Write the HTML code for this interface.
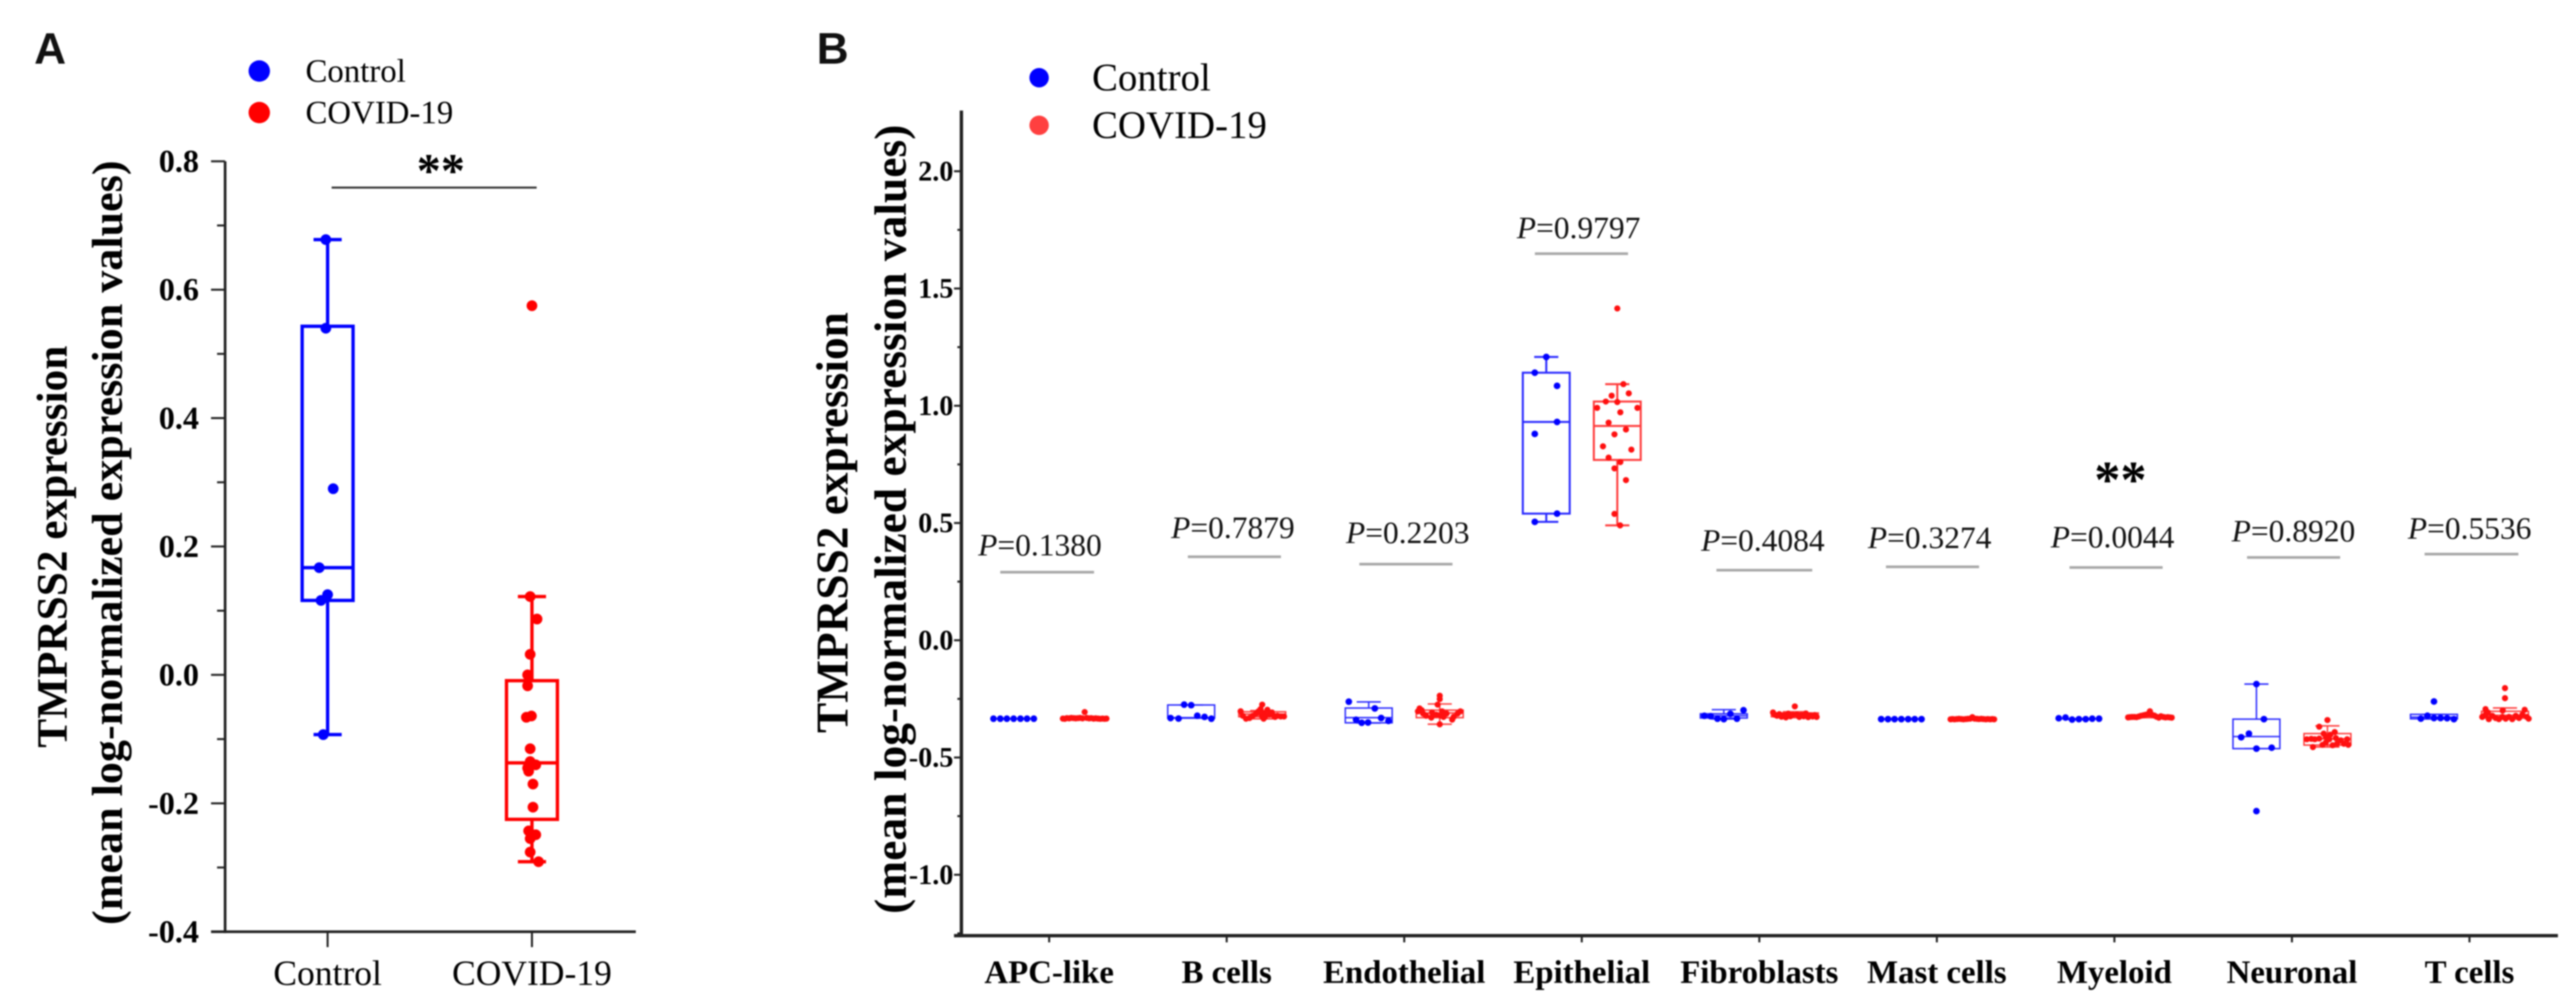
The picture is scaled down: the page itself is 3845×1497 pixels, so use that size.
<!DOCTYPE html>
<html lang="en">
<head>
<meta charset="utf-8">
<title>TMPRSS2 expression boxplots</title>
<style>
html,body{margin:0;padding:0;background:#fff;width:3845px;height:1497px;overflow:hidden}
svg{display:block;filter:blur(1.1px)}
text{font-family:"Liberation Serif","Times New Roman",serif;fill:#000}
.panel{font-family:"Liberation Sans",Arial,sans-serif;font-weight:700;font-size:66px;fill:#111}
.bold{font-weight:700}
.p{font-size:47px;fill:#111}
.p tspan{font-style:italic}
</style>
</head>
<body>
<svg id="figure" xmlns="http://www.w3.org/2000/svg" width="3845" height="1497" viewBox="0 0 3845 1497">
  <text class="panel" x="51" y="95">A</text>
  <text class="panel" x="1219" y="95">B</text>

  <g>
    <circle cx="387" cy="106" r="16" fill="#0000ff"/>
    <text x="456" y="122" font-size="49">Control</text>
    <circle cx="387" cy="168" r="16" fill="#ff0000"/>
    <text x="456" y="184" font-size="49">COVID-19</text>
  </g>
  <text class="bold" transform="translate(99.5,816) rotate(-90)" text-anchor="middle" font-size="65" textLength="600" lengthAdjust="spacingAndGlyphs">TMPRSS2 expression</text>
  <text class="bold" transform="translate(182,810) rotate(-90)" text-anchor="middle" font-size="65" textLength="1141" lengthAdjust="spacingAndGlyphs">(mean log-normalized expression values)</text>
  <line x1="495" y1="280" x2="801" y2="280" stroke="#333" stroke-width="3"/>
  <text class="bold" x="658" y="279" text-anchor="middle" font-size="72">**</text>
  <g id="panelA"></g>

  <g>
    <circle cx="1551" cy="116" r="14.5" fill="#0000ff"/>
    <text x="1630" y="135" font-size="58">Control</text>
    <circle cx="1551" cy="187" r="14.5" fill="#ff4040"/>
    <text x="1630" y="206" font-size="58">COVID-19</text>
  </g>
  <text class="bold" transform="translate(1265,780) rotate(-90)" text-anchor="middle" font-size="68" textLength="628" lengthAdjust="spacingAndGlyphs">TMPRSS2 expression</text>
  <text class="bold" transform="translate(1352,775) rotate(-90)" text-anchor="middle" font-size="68" textLength="1178" lengthAdjust="spacingAndGlyphs">(mean log-normalized expression values)</text>
  <g id="panelB"></g>

  <g stroke="#a8a8a8" stroke-width="4">
    <line x1="1493" y1="854" x2="1633" y2="854"/>
    <line x1="1773" y1="831" x2="1912" y2="831"/>
    <line x1="2029" y1="842" x2="2168" y2="842"/>
    <line x1="2291" y1="378.6" x2="2430" y2="378.6"/>
    <line x1="2562" y1="851" x2="2705" y2="851"/>
    <line x1="2815" y1="846" x2="2954" y2="846"/>
    <line x1="3089" y1="847" x2="3228" y2="847"/>
    <line x1="3354" y1="832" x2="3493" y2="832"/>
    <line x1="3619" y1="827" x2="3759" y2="827"/>
  </g>
  <g>
    <text class="p" x="1460" y="829"><tspan>P</tspan>=0.1380</text>
    <text class="p" x="1748" y="803"><tspan>P</tspan>=0.7879</text>
    <text class="p" x="2009" y="810.6"><tspan>P</tspan>=0.2203</text>
    <text class="p" x="2264" y="355.6"><tspan>P</tspan>=0.9797</text>
    <text class="p" x="2539" y="822"><tspan>P</tspan>=0.4084</text>
    <text class="p" x="2788" y="818"><tspan>P</tspan>=0.3274</text>
    <text class="p" x="3061" y="817"><tspan>P</tspan>=0.0044</text>
    <text class="p" x="3331" y="808"><tspan>P</tspan>=0.8920</text>
    <text class="p" x="3594" y="804"><tspan>P</tspan>=0.5536</text>
  </g>
  <text class="bold" x="3165" y="742" text-anchor="middle" font-size="78">**</text>
</svg>

<script>
/* ---------- Panel A data ---------- */
const panelATickValues = [0.8, 0.6, 0.4, 0.2, 0.0, -0.2, -0.4];
const panelATickLabels = ['0.8', '0.6', '0.4', '0.2', '0.0', '-0.2', '-0.4'];
const panelAMinorTickValues = [0.7, 0.5, 0.3, 0.1, -0.1, -0.3];
const panelACategories = ['Control', 'COVID-19'];
const panelAQ1 = [0.116, -0.225];
const panelAMedian = [0.167, -0.137];
const panelAQ3 = [0.543, -0.009];
const panelAWhiskerLow = [-0.093, -0.291];
const panelAWhiskerHigh = [0.678, 0.122];
const panelAControlValues = [0.678, 0.540, 0.290, 0.167, 0.125, 0.116, -0.093];
const panelAControlJitter = [-0.07, -0.07, 0.22, -0.33, 0, -0.26, -0.17];
const panelACovidValues = [0.575, 0.122, 0.087, 0.032, 0.000, -0.017, -0.066, -0.064, -0.115, -0.135, -0.140, -0.145, -0.150, -0.170, -0.206, -0.243, -0.249, -0.255, -0.276, -0.291];
const panelACovidJitter = [0, -0.07, 0.20, -0.07, -0.17, -0.17, -0.22, -0.02, -0.07, -0.07, 0.15, -0.17, -0.13, 0.04, 0.04, -0.13, 0.15, -0.07, -0.07, 0.26];

/* ---------- Panel B data ---------- */
const panelBTickValues = [2.0, 1.5, 1.0, 0.5, 0.0, -0.5, -1.0];
const panelBTickLabels = ['2.0', '1.5', '1.0', '0.5', '0.0', '-0.5', '-1.0'];
const panelBMinorTickValues = [1.75, 1.25, 0.75, 0.25, -0.25, -0.75, -1.25];
const panelBCategories = ['APC-like', 'B cells', 'Endothelial', 'Epithelial', 'Fibroblasts', 'Mast cells', 'Myeloid', 'Neuronal', 'T cells'];

const controlQ1 = [-0.3345, -0.332, -0.352, 0.540, -0.3316, -0.336, -0.3345, -0.4621, -0.335];
const controlMedian = [-0.3345, -0.330, -0.330, 0.931, -0.322, -0.336, -0.3345, -0.4106, -0.328];
const controlQ3 = [-0.3345, -0.276, -0.289, 1.141, -0.3136, -0.336, -0.3345, -0.3364, -0.316];
const controlWhiskerLow = [-0.3345, -0.332, -0.353, 0.505, -0.336, -0.336, -0.338, -0.4621, -0.336];
const controlWhiskerHigh = [-0.3345, -0.276, -0.263, 1.208, -0.296, -0.336, -0.3345, -0.1868, -0.316];

const covidQ1 = [-0.334, -0.326, -0.330, 0.769, -0.326, -0.336, -0.329, -0.447, -0.332];
const covidMedian = [-0.333, -0.315, -0.310, 0.914, -0.320, -0.336, -0.327, -0.420, -0.320];
const covidQ3 = [-0.332, -0.305, -0.298, 1.018, -0.310, -0.336, -0.322, -0.398, -0.303];
const covidWhiskerLow = [-0.335, -0.335, -0.358, 0.490, -0.330, -0.336, -0.330, -0.455, -0.336];
const covidWhiskerHigh = [-0.332, -0.300, -0.2717, 1.092, -0.305, -0.336, -0.320, -0.365, -0.2887];

const evenJitter7 = [-0.86, -0.57, -0.29, 0, 0.29, 0.57, 0.86];
const evenJitter21 = [-0.93, -0.85, -0.76, -0.66, -0.57, -0.47, -0.38, -0.28, -0.19, -0.09, 0, 0.09, 0.19, 0.28, 0.38, 0.47, 0.57, 0.66, 0.76, 0.85, 0.93];

const apcControlValues = [-0.3345, -0.3345, -0.3345, -0.3345, -0.3345, -0.3345, -0.3345];
const apcCovidValues = [-0.334, -0.335, -0.332, -0.333, -0.331, -0.332, -0.333, -0.332, -0.331, -0.333, -0.306, -0.331, -0.333, -0.332, -0.334, -0.333, -0.334, -0.335, -0.334, -0.335, -0.334];

const bCellsControlValues = [-0.2745, -0.277, -0.3317, -0.334, -0.322, -0.327, -0.3345];
const bCellsControlJitter = [-0.30, 0, -0.88, -0.54, 0.26, 0.57, 0.86];
const bCellsCovidValues = [-0.303, -0.322, -0.3345, -0.3316, -0.322, -0.3126, -0.303, -0.2745, -0.2935, -0.2964, -0.3126, -0.3221, -0.3345, -0.3173, -0.3078, -0.3221, -0.3221, -0.325, -0.325, -0.3269, -0.3269];
const bCellsCovidJitter = [-0.92, -0.83, -0.69, -0.54, -0.40, -0.26, -0.16, 0, -0.07, 0.22, 0.08, -0.02, 0.06, 0.31, 0.41, 0.50, 0.65, 0.79, 0.93, 0.55, 0.12];

const endothelialControlValues = [-0.262, -0.339, -0.3517, -0.3507, -0.2907, -0.3316, -0.344];
const endothelialControlJitter = [-0.85, -0.54, -0.30, -0.03, 0.26, 0.53, 0.84];
const endothelialCovidValues = [-0.2364, -0.2507, -0.2745, -0.2907, -0.3031, -0.3031, -0.3126, -0.3383, -0.3583, -0.3126, -0.3221, -0.3079, -0.3297, -0.3174, -0.3031, -0.3221, -0.3126, -0.3269, -0.2983, -0.3269, -0.3174];
const endothelialCovidJitter = [0, 0, -0.09, -0.86, -0.93, 0.88, 0.76, 0.53, 0, -0.71, -0.58, -0.33, -0.36, -0.15, 0.10, 0.04, 0.29, 0.59, -0.77, 0.16, -0.27];

const epithelialControlValues = [1.208, 1.141, 1.085, 0.931, 0.880, 0.540, 0.505];
const epithelialControlJitter = [0, -0.49, 0.46, 0.46, -0.49, 0.46, -0.49];
const epithelialCovidValues = [1.415, 1.092, 1.053, 1.043, 1.018, 1.016, 0.991, 0.991, 0.972, 0.928, 0.899, 0.878, 0.827, 0.813, 0.779, 0.760, 0.733, 0.683, 0.539, 0.490];
const epithelialCovidJitter = [0, 0.26, 0.49, -0.24, -0.49, 0, -0.86, 0.86, 0.13, -0.37, 0.37, -0.12, -0.61, 0.60, -0.37, 0.13, -0.12, 0.37, -0.12, 0.12];

const fibroblastsControlValues = [-0.3221, -0.324, -0.3345, -0.3364, -0.3136, -0.3345, -0.2983];
const fibroblastsControlJitter = [-0.83, -0.56, -0.27, 0, 0.28, 0.56, 0.84];
const fibroblastsCovidValues = [-0.308, -0.318, -0.322, -0.315, -0.326, -0.320, -0.329, -0.313, -0.324, -0.318, -0.282, -0.316, -0.327, -0.319, -0.324, -0.312, -0.328, -0.320, -0.325, -0.319, -0.327];

const mastControlValues = [-0.3364, -0.3364, -0.3364, -0.3364, -0.3364, -0.3364, -0.3364];
const mastCovidValues = [-0.337, -0.336, -0.337, -0.336, -0.335, -0.336, -0.337, -0.336, -0.335, -0.334, -0.328, -0.334, -0.335, -0.336, -0.335, -0.336, -0.337, -0.336, -0.337, -0.336, -0.337];

const myeloidControlValues = [-0.3326, -0.3297, -0.3383, -0.3364, -0.3364, -0.3345, -0.3345];
const myeloidCovidValues = [-0.329, -0.328, -0.327, -0.327, -0.328, -0.325, -0.322, -0.320, -0.318, -0.315, -0.303, -0.318, -0.321, -0.326, -0.330, -0.324, -0.327, -0.329, -0.328, -0.329, -0.330];

const neuronalControlValues = [-0.1868, -0.3364, -0.3983, -0.4135, -0.4621, -0.4583, -0.7287];
const neuronalControlJitter = [0, 0.32, -0.32, -0.65, 0, 0.65, 0];
const neuronalCovidValues = [-0.3402, -0.3687, -0.4554, -0.4221, -0.3916, -0.3983, -0.4221, -0.4192, -0.4125, -0.4459, -0.4221, -0.4478, -0.4411, -0.4268, -0.4221, -0.4459, -0.4411, -0.4364, -0.4173, -0.4202, -0.403];
const neuronalCovidJitter = [0, -0.35, -0.62, -0.88, 0.31, -0.16, -0.54, -0.35, -0.07, -0.21, 0.08, 0.22, 0.41, 0.57, 0.84, 0.89, 0.70, -0.07, 0.36, -0.69, 0.12];

const tCellsControlValues = [-0.2611, -0.3344, -0.322, -0.3316, -0.3316, -0.3325, -0.3364];
const tCellsControlJitter = [0, -0.56, -0.28, 0, 0.28, 0.56, 0.85];
const tCellsCovidValues = [-0.204, -0.2468, -0.2935, -0.2964, -0.300, -0.3268, -0.3173, -0.3364, -0.322, -0.3316, -0.3364, -0.3268, -0.3344, -0.3268, -0.3364, -0.322, -0.3316, -0.3173, -0.3268, -0.3344, -0.3078];
const tCellsCovidJitter = [0, 0, -0.83, 0.84, -0.10, -0.97, -0.83, -0.69, -0.54, -0.40, -0.26, -0.11, 0.03, 0.17, 0.31, 0.46, 0.60, 0.74, 0.93, 1.01, -0.73];

const controlSeries = [apcControlValues, bCellsControlValues, endothelialControlValues, epithelialControlValues, fibroblastsControlValues, mastControlValues, myeloidControlValues, neuronalControlValues, tCellsControlValues];
const controlJitter = [evenJitter7, bCellsControlJitter, endothelialControlJitter, epithelialControlJitter, fibroblastsControlJitter, evenJitter7, evenJitter7, neuronalControlJitter, tCellsControlJitter];
const covidSeries = [apcCovidValues, bCellsCovidValues, endothelialCovidValues, epithelialCovidValues, fibroblastsCovidValues, mastCovidValues, myeloidCovidValues, neuronalCovidValues, tCellsCovidValues];
const covidJitter = [evenJitter21, bCellsCovidJitter, endothelialCovidJitter, epithelialCovidJitter, evenJitter21, evenJitter21, evenJitter21, neuronalCovidJitter, tCellsCovidJitter];

/* ---------- helpers ---------- */
const SVG_NS = 'http://www.w3.org/2000/svg';
function mk(parent, tag, attrs, text) {
  const node = document.createElementNS(SVG_NS, tag);
  for (const key in attrs) node.setAttribute(key, attrs[key]);
  if (text !== undefined) node.textContent = text;
  parent.appendChild(node);
  return node;
}
function linearScale(v0, p0, v1, p1) {
  return function (v) { return p0 + (v - v0) * (p1 - p0) / (v1 - v0); };
}
function drawAxes(g, o) {
  const yAxis = mk(g, 'line', { x1: o.axisX, y1: o.top, x2: o.axisX, y2: o.bottom + o.axisW / 2, stroke: '#222', 'stroke-width': o.axisW });
  
  
  const xAxis = mk(g, 'line', { x1: o.axisX - o.majorLen, y1: o.bottom, x2: o.right, y2: o.bottom, stroke: '#222', 'stroke-width': o.axisW });
  
  
  o.tickValues.forEach(function (v, i) {
    const tick = mk(g, 'line', { x1: o.axisX - o.majorLen, y1: o.y(v), x2: o.axisX, y2: o.y(v), stroke: '#222', 'stroke-width': 3 });
    
    
    const label = mk(g, 'text', { x: o.labelX, y: o.y(v) + o.tickFont * 0.33, 'text-anchor': 'end', 'font-size': o.tickFont, 'font-weight': 700 }, o.tickLabels[i]);
    
    
  });
  o.minorValues.forEach(function (v) {
    const tick = mk(g, 'line', { x1: o.axisX - o.minorLen, y1: o.y(v), x2: o.axisX, y2: o.y(v), stroke: '#222', 'stroke-width': 3 });
    
    
  });
  o.categories.forEach(function (name, i) {
    const x = o.x(i);
    const tick = mk(g, 'line', { x1: x, y1: o.bottom, x2: x, y2: o.bottom + o.xTickLen, stroke: '#222', 'stroke-width': 3 });
    
    
    const label = mk(g, 'text', { x: x, y: o.xLabelY, 'text-anchor': 'middle', 'font-size': o.xFont, 'font-weight': o.xWeight }, name);
    
    
  });
}
function drawBox(g, cx, y, q1, med, q3, lo, hi, halfW, capHalf, color, sw) {
  const whisker = mk(g, 'path', {
    d: 'M' + cx + ' ' + y(q3) + 'V' + y(hi) + 'M' + (cx - capHalf) + ' ' + y(hi) + 'H' + (cx + capHalf) +
       'M' + cx + ' ' + y(q1) + 'V' + y(lo) + 'M' + (cx - capHalf) + ' ' + y(lo) + 'H' + (cx + capHalf),
    fill: 'none', stroke: color, 'stroke-width': sw
  });
  
  
  const box = mk(g, 'rect', { x: cx - halfW, y: y(q3), width: halfW * 2, height: Math.max(0, y(q1) - y(q3)), fill: 'none', stroke: color, 'stroke-width': sw });
  
  
  const median = mk(g, 'line', { x1: cx - halfW, y1: y(med), x2: cx + halfW, y2: y(med), stroke: color, 'stroke-width': sw });
  
  
}
function drawPoints(g, cx, y, values, jitter, halfW, r, color) {
  values.forEach(function (v, i) {
    const point = mk(g, 'circle', { cx: cx + jitter[i] * halfW, cy: y(v), r: r, fill: color });
    
    
  });
}

/* ---------- Panel A ---------- */
(function () {
  const g = document.getElementById('panelA');
  const y = linearScale(0.8, 240.7, -0.4, 1390.6);
  const x = function (i) { return 489 + i * 305; };
  drawAxes(g, {
    axisX: 336, top: 240.7, bottom: 1390.6, right: 949, axisW: 4, majorLen: 21, minorLen: 12, labelX: 297,
    tickValues: panelATickValues, tickLabels: panelATickLabels, minorValues: panelAMinorTickValues, tickFont: 48,
    categories: panelACategories, x: x, xTickLen: 23, xLabelY: 1470, xFont: 53, xWeight: 400, y: y
  });
  drawBox(g, x(0), y, panelAQ1[0], panelAMedian[0], panelAQ3[0], panelAWhiskerLow[0], panelAWhiskerHigh[0], 38, 21, '#0000ff', 5);
  drawBox(g, x(1), y, panelAQ1[1], panelAMedian[1], panelAQ3[1], panelAWhiskerLow[1], panelAWhiskerHigh[1], 38, 21, '#ff0000', 5);
  drawPoints(g, x(0), y, panelAControlValues, panelAControlJitter, 38, 8, '#0000ff');
  drawPoints(g, x(1), y, panelACovidValues, panelACovidJitter, 38, 8, '#ff0000');
})();

/* ---------- Panel B ---------- */
(function () {
  const g = document.getElementById('panelB');
  const y = linearScale(2.0, 255.6, -1.0, 1305.6);
  const x = function (i) { return 1566 + i * 265; };
  drawAxes(g, {
    axisX: 1435, top: 165, bottom: 1396.5, right: 3818, axisW: 5, majorLen: 11, minorLen: 6, labelX: 1423,
    tickValues: panelBTickValues, tickLabels: panelBTickLabels, minorValues: panelBMinorTickValues, tickFont: 42,
    categories: panelBCategories, x: x, xTickLen: 10, xLabelY: 1467, xFont: 49, xWeight: 700, y: y
  });
  panelBCategories.forEach(function (name, i) {
    const sw = name === 'Epithelial' ? 3 : 2.2;
    drawBox(g, x(i) - 53, y, controlQ1[i], controlMedian[i], controlQ3[i], controlWhiskerLow[i], controlWhiskerHigh[i], 35, 18, '#2a2aff', sw);
    drawBox(g, x(i) + 53, y, covidQ1[i], covidMedian[i], covidQ3[i], covidWhiskerLow[i], covidWhiskerHigh[i], 35, 18, '#ff3b3b', sw);
    drawPoints(g, x(i) - 53, y, controlSeries[i], controlJitter[i], 35, 5, '#0000ff');
    drawPoints(g, x(i) + 53, y, covidSeries[i], covidJitter[i], 35, 4.6, '#ff1010');
  });
})();
</script>
</body>
</html>
